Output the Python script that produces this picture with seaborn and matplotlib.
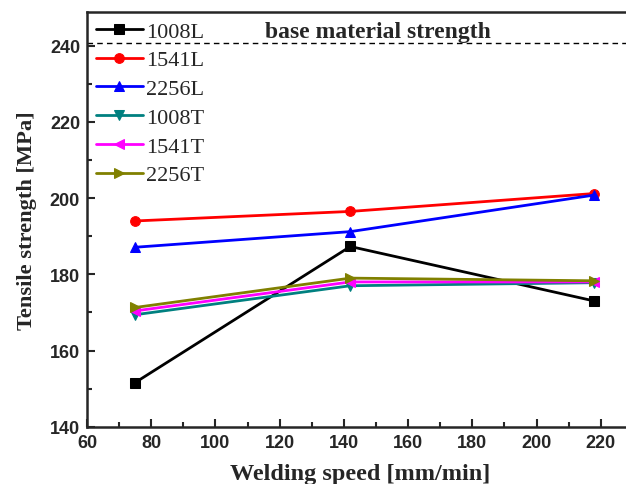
import numpy as np
import pandas as pd
import seaborn as sns
import matplotlib.pyplot as plt

# data
speed = [75, 142, 218]
series = ['1008L', '1541L', '2256L', '1008T', '1541T', '2256T']
s1008L = [151.6, 187.3, 173.0]
s1541L = [194.0, 196.5, 201.2]
s2256L = [187.1, 191.2, 200.8]
s1008T = [169.4, 177.0, 177.8]
s1541T = [170.4, 178.0, 178.0]
s2256T = [171.3, 179.0, 178.3]
base_strength = 240.8

colors = ['#000000', '#ff0000', '#0000ff', '#008080', '#ff00ff', '#808000']
marks = ['s', 'o', '^', 'v', '<', '>']

df = pd.DataFrame({
    'speed': speed * 6,
    'strength': s1008L + s1541L + s2256L + s1008T + s1541T + s2256T,
    'sample': np.repeat(series, 3),
})

sns.set_style('ticks')
plt.rcParams['font.family'] = ['Liberation Serif', 'DejaVu Serif']

fig = plt.figure(figsize=(6.26, 4.85), dpi=100)
ax = fig.add_axes([0.139, 0.118, 0.872, 0.855])

sns.lineplot(data=df, x='speed', y='strength', hue='sample', style='sample',
             hue_order=series, style_order=series, palette=colors,
             markers=marks, dashes=False, markersize=7, linewidth=2,
             markeredgecolor=None, ax=ax)

ax.axhline(base_strength, color='black', ls=(0, (4, 3)), lw=1)
ax.text(115.5, 243.7, 'base material strength', fontsize=17, fontweight='bold',
        va='center', ha='left')

ax.set_xlim(60, 230)
ax.set_ylim(140, 248.8)
ax.set_xticks(np.arange(60, 221, 20))
ax.set_yticks(np.arange(140, 241, 20))
ax.set_xticks(np.arange(70, 231, 20), minor=True)
ax.set_yticks(np.arange(150, 241, 20), minor=True)
ax.tick_params(which='major', direction='in', length=6, width=1.5, pad=5)
ax.tick_params(which='minor', direction='in', length=3.5, width=1.5)
for lab in ax.get_xticklabels() + ax.get_yticklabels():
    lab.set_family('Liberation Sans')
    lab.set_fontweight('bold')
    lab.set_fontsize(13)
for sp in ax.spines.values():
    sp.set_linewidth(1.8)

ax.set_xlabel('Welding speed [mm/min]', fontsize=17.5, fontweight='bold', labelpad=9)
ax.set_ylabel('Tensile strength [MPa]', fontsize=16.2, fontweight='bold', labelpad=9)

leg = ax.legend(loc='upper left', frameon=False, fontsize=16, handlelength=2.1,
                handletextpad=0.15, labelspacing=0.37, borderaxespad=0.25,
                borderpad=0.15)

fig.savefig('out.png', dpi=100)
